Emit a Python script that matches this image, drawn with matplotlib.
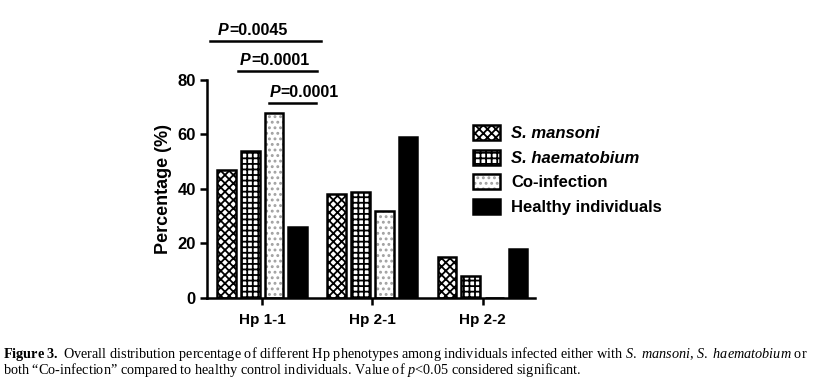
import matplotlib
matplotlib.use("Agg")
import matplotlib.pyplot as plt
import matplotlib.patches as mpatches
import matplotlib.transforms as mtransforms
import numpy as np

categories = ["Hp 1-1", "Hp 2-1", "Hp 2-2"]
groups = ["S. mansoni", "S. haematobium", "Co-infection", "Healthy individuals"]
s_mansoni = [47, 38, 15]
s_haematobium = [54, 39, 8]
co_infection = [68, 32, 0]
healthy = [26, 59, 18]

# significance lines over Hp 1-1: x span (axis units), height, label start, label
sig_x0 = [-0.47, -0.22, 0.06]
sig_x1 = [0.53, 0.50, 0.49]
sig_y = [94.3, 83.3, 71.6]
sig_tx = [-0.40, -0.20, 0.064]
sig_labels = ["=0.0045", "=0.0001", "=0.0001"]

plt.rcParams["font.family"] = ["Liberation Sans", "DejaVu Sans"]
plt.rcParams["hatch.linewidth"] = 1.3
plt.rcParams["mathtext.fontset"] = "custom"
plt.rcParams["mathtext.rm"] = "Liberation Serif"
plt.rcParams["mathtext.it"] = "Liberation Serif:italic"
plt.rcParams["mathtext.bf"] = "Liberation Serif:bold"

fig = plt.figure(figsize=(8.25, 3.84), dpi=100)
ax = fig.add_axes([0.251, 0.224, 0.398, 0.568])

x = np.arange(len(categories))
width = 0.17
step = 0.215
offsets = (np.arange(4) - 1.5) * step
edge = dict(edgecolor="black", linewidth=1.8)

ax.bar(x + offsets[0], s_mansoni, width, facecolor="white", hatch="xxxx", **edge)
ax.bar(x + offsets[1], s_haematobium, width, facecolor="white", hatch="+++", **edge)
ax.bar(x + offsets[2], co_infection, width, facecolor="white", hatch="...",
       edgecolor="#a0a0a0", linewidth=0)
ax.bar(x + offsets[2], co_infection, width, fill=False, **edge)
ax.bar(x + offsets[3], healthy, width, facecolor="black", **edge)

ax.set_xlim(-0.5, 2.48)
ax.set_ylim(0, 80)
ax.set_yticks([0, 20, 40, 60, 80])
ax.set_xticks(x)
ax.set_xticklabels(categories, fontsize=11, fontweight="bold")
for lab in ax.get_yticklabels():
    lab.set_fontsize(12)
    lab.set_fontweight("bold")
ax.set_ylabel("Percentage (%)", fontsize=13, fontweight="bold", labelpad=4)
for side in ["top", "right"]:
    ax.spines[side].set_visible(False)
for side in ["left", "bottom"]:
    ax.spines[side].set_linewidth(1.8)
ax.tick_params(width=1.8, length=5, pad=3)
ax.tick_params(axis="x", pad=6)

for x0, x1, h, tx, lab in zip(sig_x0, sig_x1, sig_y, sig_tx, sig_labels):
    ax.plot([x0, x1], [h, h], color="black", lw=1.8, clip_on=False)
    ax.text(tx, h + 2.3, "P", ha="left", va="baseline", fontsize=11.5,
            fontweight="bold", fontstyle="italic")
    shifted = mtransforms.offset_copy(ax.transData, fig=fig, x=7.9, y=0, units="points")
    ax.text(tx, h + 2.3, lab, ha="left", va="baseline", fontsize=11.5,
            fontweight="bold", transform=shifted)

handles = [
    mpatches.Patch(facecolor="white", hatch="xxxx", edgecolor="black", linewidth=1.8),
    mpatches.Patch(facecolor="white", hatch="+++", edgecolor="black", linewidth=1.8),
    (mpatches.Patch(facecolor="white", hatch="...", edgecolor="#a0a0a0", linewidth=0),
     mpatches.Patch(fill=False, edgecolor="black", linewidth=1.8)),
    mpatches.Patch(facecolor="black", edgecolor="black", linewidth=1.8),
]
leg = fig.legend(handles, groups, loc="upper left", bbox_to_anchor=(0.555, 0.713),
                 frameon=False, fontsize=12, handlelength=1.6, handleheight=1.0,
                 labelspacing=0.5, handletextpad=0.7)
for i, t in enumerate(leg.get_texts()):
    t.set_fontweight("bold")
    if i < 2:
        t.set_fontstyle("italic")

serif = ["Liberation Serif", "DejaVu Serif"]
fig.text(0.004, 0.068,
         r"$\mathbf{Figure\ 3.}$" + " Overall distribution percentage of different Hp phenotypes among individuals infected either with "
         + r"$\mathit{S.\ mansoni}$, $\mathit{S.\ haematobium}$ or",
         fontsize=10.3, family=serif, va="baseline")
fig.text(0.004, 0.025,
         "both \u201cCo-infection\u201d compared to healthy control individuals. Value of "
         + r"$\mathit{p}$<0.05 considered significant.",
         fontsize=10.3, family=serif, va="baseline")

fig.savefig("out.png", dpi=100)
